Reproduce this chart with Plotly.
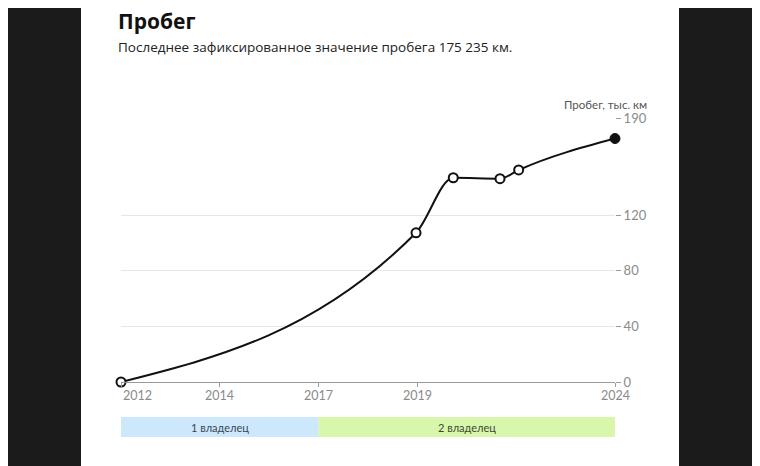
import plotly.graph_objects as go

# ---- data ----
# x positions are in the chart's own axis units (ticks evenly spaced: 0..5)
point_pos = [0.0, 2.986, 3.363, 3.836, 4.025, 5.0]
mileage_k = [0.0, 107.4, 147.0, 146.3, 152.6, 175.235]

tick_pos = [0, 1, 2, 3, 5]
tick_labels = ["2012", "2014", "2017", "2019", "2024"]

y_ticks = [0, 40, 80, 120, 190]

owner_labels = ["1 владелец", "2 владелец"]
owner_start = [0.0, 2.0]
owner_end = [2.0, 5.0]
owner_fill = ["#cce8fa", "#d8f7ad"]
owner_text = ["#3a4654", "#3d4a2e"]

# ---- layout geometry (page has an 8px body margin) ----
OFF = 8
W, H = 760 - OFF, 466 - OFF
L, R, T, B = 121 - OFF, 145, 118 - OFF, 84
pw, ph = W - L - R, H - T - B


def px_x(px):  # window pixel -> paper x
    return (px - OFF - L) / pw


def px_y(py):  # window pixel -> paper y
    return (H - B - (py - OFF)) / ph


def monotone_path(xs, ys):
    """Monotone cubic (Fritsch-Carlson / d3 curveMonotoneX) as an SVG path in data units."""
    n = len(xs)
    h = [xs[i + 1] - xs[i] for i in range(n - 1)]
    s = [(ys[i + 1] - ys[i]) / h[i] for i in range(n - 1)]
    t = [0.0] * n

    def sgn(v):
        return (v > 0) - (v < 0)

    for i in range(1, n - 1):
        p = (s[i - 1] * h[i] + s[i] * h[i - 1]) / (h[i - 1] + h[i])
        t[i] = (sgn(s[i - 1]) + sgn(s[i])) * min(abs(s[i - 1]), abs(s[i]), 0.5 * abs(p))
    t[0] = (3 * s[0] - t[1]) / 2
    t[-1] = (3 * s[-1] - t[-2]) / 2
    d = f"M{xs[0]},{ys[0]}"
    for i in range(n - 1):
        dx = h[i] / 3
        d += (f" C{xs[i] + dx},{ys[i] + dx * t[i]} "
              f"{xs[i + 1] - dx},{ys[i + 1] - dx * t[i + 1]} {xs[i + 1]},{ys[i + 1]}")
    return d


fig = go.Figure()

fig.add_trace(go.Scatter(
    x=point_pos[:-1], y=mileage_k[:-1], mode="markers",
    marker=dict(size=9, color="white", line=dict(color="#111111", width=2)),
    showlegend=False, cliponaxis=False,
))
fig.add_trace(go.Scatter(
    x=point_pos[-1:], y=mileage_k[-1:], mode="markers",
    marker=dict(size=10, color="#111111", line=dict(color="#111111", width=1)),
    showlegend=False, cliponaxis=False,
))

shapes = [
    # dark side areas
    dict(type="rect", xref="paper", yref="paper", x0=px_x(OFF), x1=px_x(81),
         y0=px_y(466), y1=px_y(OFF), fillcolor="#1b1b1b", line=dict(width=0), layer="below"),
    dict(type="rect", xref="paper", yref="paper", x0=px_x(679), x1=px_x(760),
         y0=px_y(466), y1=px_y(OFF), fillcolor="#1b1b1b", line=dict(width=0), layer="below"),
    # mileage line (smooth monotone curve through the data points)
    dict(type="path", xref="x", yref="y", path=monotone_path(point_pos, mileage_k),
         line=dict(color="#111111", width=2), fillcolor="rgba(0,0,0,0)", layer="between"),
]
annotations = []

bar_y0, bar_y1 = px_y(437), px_y(417)
for lab, s, e, fc, tc in zip(owner_labels, owner_start, owner_end, owner_fill, owner_text):
    shapes.append(dict(type="rect", xref="x", yref="paper", x0=s, x1=e,
                       y0=bar_y0, y1=bar_y1, fillcolor=fc, line=dict(width=0),
                       layer="below"))
    annotations.append(dict(x=(s + e) / 2, xref="x", y=(bar_y0 + bar_y1) / 2, yref="paper",
                            text=lab, showarrow=False,
                            font=dict(family="Lato", size=11, color=tc),
                            xanchor="center", yanchor="middle"))

# x tick labels (first one is left-aligned to the axis start)
for i, (tp, tl) in enumerate(zip(tick_pos, tick_labels)):
    annotations.append(dict(x=tp, xref="x", y=px_y(395), yref="paper",
                            text=tl, showarrow=False,
                            xanchor="left" if i == 0 else "center", yanchor="middle",
                            font=dict(family="Lato", size=12.5, color="#8a8a8a")))

# title, subtitle, axis title
annotations.append(dict(x=px_x(116), y=px_y(21), xref="paper", yref="paper",
                        text="<b>Пробег</b>", showarrow=False, xanchor="left", yanchor="middle",
                        font=dict(family="Open Sans", size=21, color="#111111")))
annotations.append(dict(x=px_x(116), y=px_y(47), xref="paper", yref="paper",
                        text="Последнее зафиксированное значение пробега 175 235 км.",
                        showarrow=False, xanchor="left", yanchor="middle",
                        font=dict(family="Open Sans", size=13.5, color="#222222")))
annotations.append(dict(x=px_x(649), y=px_y(104), xref="paper", yref="paper",
                        text="Пробег, тыс. км", showarrow=False, xanchor="right", yanchor="middle",
                        font=dict(family="Lato", size=11.5, color="#555555")))

fig.update_layout(
    width=W, height=H,
    margin=dict(l=L, r=R, t=T, b=B, pad=0),
    paper_bgcolor="white", plot_bgcolor="white",
    shapes=shapes, annotations=annotations,
    showlegend=False,
    xaxis=dict(range=[0, 5], tickvals=tick_pos, showticklabels=False,
               showgrid=False, zeroline=False,
               showline=True, linecolor="#9a9a9a", linewidth=1,
               ticks="outside", ticklen=4, tickcolor="#9a9a9a", tickwidth=1,
               fixedrange=True),
    yaxis=dict(range=[0, 190], tickvals=y_ticks, side="right",
               showgrid=True, gridcolor="#e6e6e6", gridwidth=1,
               zeroline=False, showline=False,
               ticks="outside", ticklen=5, tickcolor="#9a9a9a", tickwidth=1,
               tickfont=dict(family="Lato", size=13, color="#8a8a8a"),
               fixedrange=True),
)

fig.write_html("out.html")
